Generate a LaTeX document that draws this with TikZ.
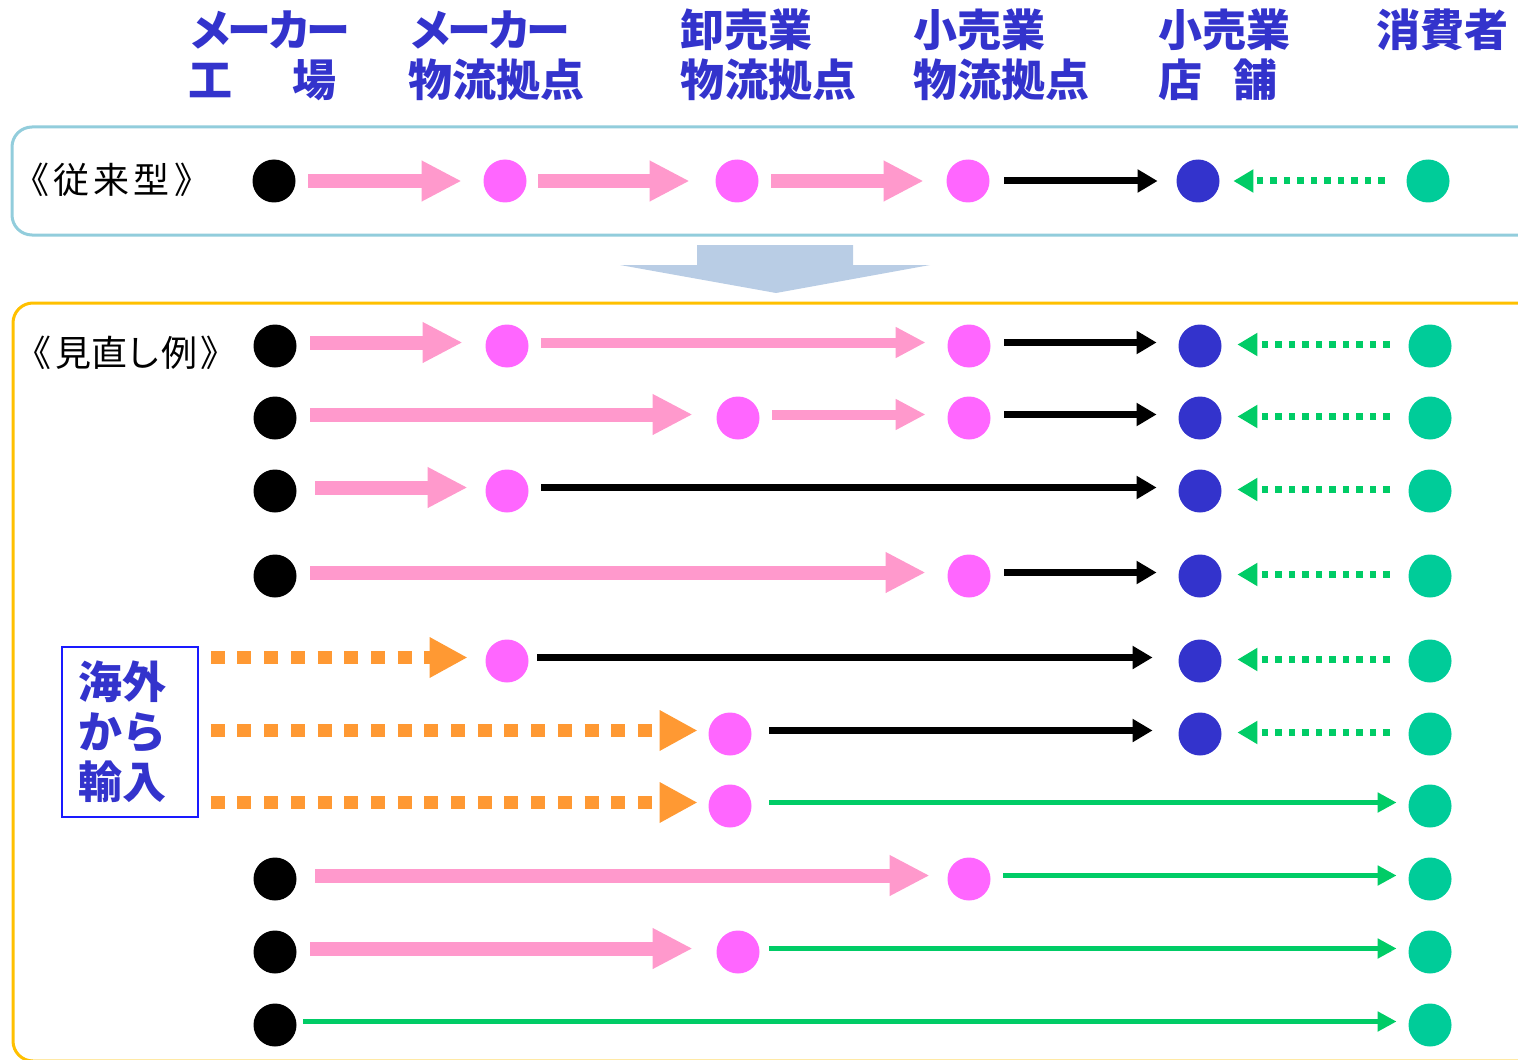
\documentclass[tikz,border=0pt]{standalone}
\usepackage{fontspec}
\usetikzlibrary{arrows.meta}
\newfontfamily\jp{Noto Sans CJK JP}
\definecolor{hdrblue}{HTML}{3333CC}
\definecolor{dotpink}{HTML}{FF66FF}
\definecolor{dotblue}{HTML}{3333CC}
\definecolor{dotgreen}{HTML}{00CC99}
\definecolor{arrpink}{HTML}{FF99CC}
\definecolor{arrgreen}{HTML}{00CC66}
\definecolor{arrorange}{HTML}{FF9933}
\definecolor{frameblue}{HTML}{92CDDC}
\definecolor{frameorange}{HTML}{FFC000}
\definecolor{bigarrow}{HTML}{B9CDE5}
\definecolor{boxblue}{HTML}{1A1AFF}
\begin{document}
\begin{tikzpicture}[x=0.5pt,y=-0.5pt,
  dot/.style={circle,inner sep=0pt,minimum size=21.5pt},
  kdot/.style={dot,fill=black},
  pdot/.style={dot,fill=dotpink},
  bdot/.style={dot,fill=dotblue},
  gdot/.style={dot,fill=dotgreen},
  sh/.style 2 args={shorten <=#1, shorten >=#2},
  up/.style={transform canvas={yshift=1.75pt}},
  upl/.style={transform canvas={yshift=0.75pt}},
  pinkbig/.style={draw=arrpink,line width=7pt,-{Triangle[length=20pt,width=19pt]}},
  pinksmall/.style={draw=arrpink,line width=5pt,-{Triangle[length=15pt,width=14.5pt]}},
  blk/.style={draw=black,line width=3.5pt,-{Triangle[length=10pt,width=11pt]}},
  grn/.style={draw=arrgreen,line width=2.5pt,-{Triangle[length=9.5pt,width=9.5pt]}},
  gdash/.style={draw=arrgreen,line width=3.5pt,dash pattern=on 3.25pt off 3.5pt,-{Triangle[length=10pt,width=11pt]}},
  odash/.style={draw=arrorange,line width=6.5pt,dash pattern=on 7pt off 6.35pt,-{Triangle[length=19pt,width=19pt]}},
  hdr/.style={anchor=base west,inner sep=0pt,text=hdrblue,font=\jp\bfseries\fontsize{22pt}{22pt}\selectfont},
  lbl/.style={anchor=base west,inner sep=0pt,text=black,font=\jp\fontsize{18pt}{18pt}\selectfont}
]
\useasboundingbox (0,0) rectangle (1518,1059);
% frames
\begin{scope}
\clip (0,0) rectangle (1518,1059);
\draw[frameblue,line width=1.5pt,rounded corners=10pt] (12,127) rectangle (1570,235);
\draw[frameorange,line width=1.5pt,rounded corners=10pt] (13,303) rectangle (1570,1061);
\end{scope}
% big down arrow
\fill[bigarrow] (697,245) -- (853,245) -- (853,265) -- (930,265) -- (776,293) -- (620,265) -- (697,265) -- cycle;
% headers
\node[hdr] (hA1) at (188,47) {メ\kern-2.3ptー\kern-2.3ptカ\kern-2.3ptー};
\node[hdr] (hA2) at (188,97) {工\hspace{30pt}場};
\node[hdr] (hB1) at (408,47) {メ\kern-2.3ptー\kern-2.3ptカ\kern-2.3ptー};
\node[hdr] (hB2) at (408,97) {物流拠点};
\node[hdr] (hC1) at (680,47) {卸売業};
\node[hdr] (hC2) at (680,97) {物流拠点};
\node[hdr] (hD1) at (913,47) {小売業};
\node[hdr] (hD2) at (913,97) {物流拠点};
\node[hdr] (hE1) at (1158,47) {小売業};
\node[hdr] (hE2) at (1158,97) {店\hspace{15.5pt}舗};
\node[hdr] (hF1) at (1376,47) {消費者};
% labels
\node[lbl] (lconv) at (13,194) {《\kern2pt従\kern2pt来\kern2pt型\kern2.5pt》};
\node[lbl] (lrev) at (15,366) {《\kern2pt見\kern0pt直\kern-1ptし\kern0pt例\kern1.5pt》};
% import box
\node[draw=boxblue,line width=0.75pt,minimum width=68pt,minimum height=85pt,inner sep=0pt,
      text width=52pt,align=left,text=hdrblue,font=\jp\bfseries\fontsize{22pt}{25pt}\selectfont]
      (imp) at (130,732) {海外\\から\\輸入};
% conventional row
\node[kdot] (c0) at (274,181) {};
\node[pdot] (c1) at (505,181) {};
\node[pdot] (c2) at (737,181) {};
\node[pdot] (c3) at (968,181) {};
\node[bdot] (c4) at (1198,181) {};
\node[gdot] (c5) at (1428,181) {};
\draw[pinkbig,sh={6.25pt}{10.75pt}] (c0) -- (c1);
\draw[pinkbig,sh={5.75pt}{12.75pt}] (c1) -- (c2);
\draw[pinkbig,sh={6.25pt}{11.25pt}] (c2) -- (c3);
\draw[blk,sh={7.25pt}{9.25pt}] (c3) -- (c4);
\draw[gdash,sh={10.75pt}{6.75pt}] (c5) -- (c4);
% row 1
\node[kdot] (r1k) at (275,346) {};
\node[pdot] (r1a) at (507,346) {};
\node[pdot] (r1c) at (969,346) {};
\node[bdot] (r1b) at (1200,346) {};
\node[gdot] (r1g) at (1430,346) {};
\draw[pinkbig,up,sh={6.75pt}{11.25pt}] (r1k) -- (r1a);
\draw[pinksmall,up,sh={6.25pt}{10.75pt}] (r1a) -- (r1c);
\draw[blk,up,sh={6.75pt}{10.75pt}] (r1c) -- (r1b);
\draw[gdash,upl,sh={9.25pt}{7.75pt}] (r1g) -- (r1b);
% row 2
\node[kdot] (r2k) at (275,418) {};
\node[pdot] (r2m) at (738,418) {};
\node[pdot] (r2c) at (969,418) {};
\node[bdot] (r2b) at (1200,418) {};
\node[gdot] (r2g) at (1430,418) {};
\draw[pinkbig,up,sh={6.75pt}{11.75pt}] (r2k) -- (r2m);
\draw[pinksmall,up,sh={6.25pt}{10.75pt}] (r2m) -- (r2c);
\draw[blk,up,sh={6.75pt}{10.75pt}] (r2c) -- (r2b);
\draw[gdash,upl,sh={9.25pt}{7.75pt}] (r2g) -- (r2b);
% row 3
\node[kdot] (r3k) at (275,491) {};
\node[pdot] (r3a) at (507,491) {};
\node[bdot] (r3b) at (1200,491) {};
\node[gdot] (r3g) at (1430,491) {};
\draw[pinkbig,up,sh={9.25pt}{8.75pt}] (r3k) -- (r3a);
\draw[blk,up,sh={6.25pt}{10.75pt}] (r3a) -- (r3b);
\draw[gdash,upl,sh={9.25pt}{7.75pt}] (r3g) -- (r3b);
% row 4
\node[kdot] (r4k) at (275,576) {};
\node[pdot] (r4c) at (969,576) {};
\node[bdot] (r4b) at (1200,576) {};
\node[gdot] (r4g) at (1430,576) {};
\draw[pinkbig,up,sh={6.75pt}{10.75pt}] (r4k) -- (r4c);
\draw[blk,up,sh={6.75pt}{10.75pt}] (r4c) -- (r4b);
\draw[gdash,upl,sh={9.25pt}{7.75pt}] (r4g) -- (r4b);
% row 5
\node[pdot] (r5a) at (507,661) {};
\node[bdot] (r5b) at (1200,661) {};
\node[gdot] (r5g) at (1430,661) {};
\draw[odash,up,sh={6pt}{8.75pt}] (imp.east |- r5a) -- (r5a);
\draw[blk,up,sh={4.25pt}{12.75pt}] (r5a) -- (r5b);
\draw[gdash,upl,sh={9.25pt}{7.75pt}] (r5g) -- (r5b);
% row 6
\node[pdot] (r6m) at (730,734) {};
\node[bdot] (r6b) at (1200,734) {};
\node[gdot] (r6g) at (1430,734) {};
\draw[odash,up,sh={6pt}{5.25pt}] (imp.east |- r6m) -- (r6m);
\draw[blk,up,sh={8.75pt}{12.75pt}] (r6m) -- (r6b);
\draw[gdash,upl,sh={9.25pt}{7.75pt}] (r6g) -- (r6b);
% row 7
\node[pdot] (r7m) at (730,806) {};
\node[gdot] (r7g) at (1430,806) {};
\draw[odash,up,sh={6pt}{5.25pt}] (imp.east |- r7m) -- (r7m);
\draw[grn,up,sh={8.75pt}{5.75pt}] (r7m) -- (r7g);
% row 8
\node[kdot] (r8k) at (275,879) {};
\node[pdot] (r8c) at (969,879) {};
\node[gdot] (r8g) at (1430,879) {};
\draw[pinkbig,up,sh={9.25pt}{8.75pt}] (r8k) -- (r8c);
\draw[grn,up,sh={6.25pt}{5.75pt}] (r8c) -- (r8g);
% row 9
\node[kdot] (r9k) at (275,952) {};
\node[pdot] (r9m) at (738,952) {};
\node[gdot] (r9g) at (1430,952) {};
\draw[pinkbig,up,sh={6.75pt}{11.75pt}] (r9k) -- (r9m);
\draw[grn,up,sh={4.75pt}{5.75pt}] (r9m) -- (r9g);
% row 10
\node[kdot] (r10k) at (275,1025) {};
\node[gdot] (r10g) at (1430,1025) {};
\draw[grn,up,sh={3.25pt}{5.75pt}] (r10k) -- (r10g);
\end{tikzpicture}
\end{document}
